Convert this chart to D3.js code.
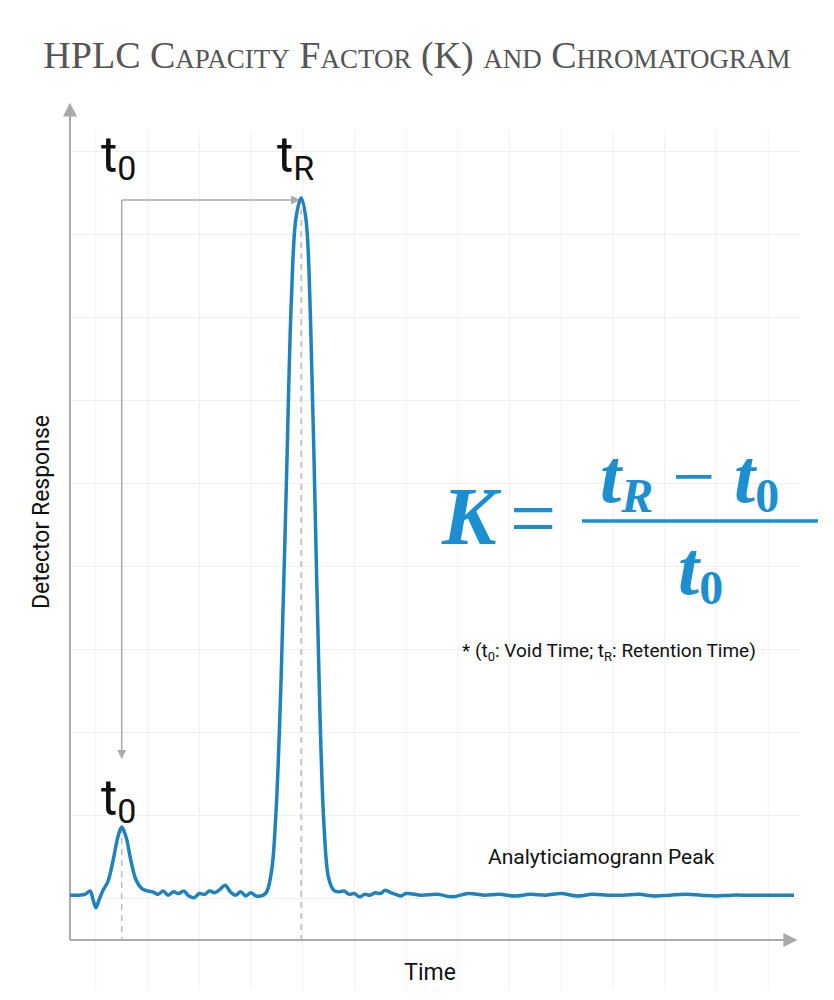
<!DOCTYPE html>
<html><head><meta charset="utf-8">
<script src="https://cdn.jsdelivr.net/npm/d3@7"></script>
<style>body{margin:0;background:#fff}</style>
</head><body>
<div id="chart"></div>
<script>
// chromatogram samples (time, detector response)
var times = [0,0.29,0.39,0.44,0.5,0.56,0.64,0.73,0.83,0.93,1.0,1.08,1.18,1.28,1.39,1.51,
  1.6,1.7,1.8,1.9,2.0,2.1,2.2,2.3,2.4,2.5,2.6,2.7,2.8,2.9,3.0,3.1,3.2,3.3,3.4,3.5,3.6,
  3.78,3.89,3.98,4.08,4.18,4.28,4.37,4.47,4.56,4.65,4.74,4.83,4.91,5.0,5.1,
  5.2,5.3,5.4,5.5,5.6,5.7,5.8,5.9,6.0,6.1,6.2,6.3,6.4,6.5,6.8,7.1,7.4,7.7,8.0,8.3,8.6,8.9,
  9.2,9.5,9.8,10.1,10.4,10.7,11.0,11.3,11.6,11.9,12.2,12.5,12.8,13.1,13.4,13.7,14.0];
var response = [5.4,5.5,5.9,5.0,3.9,4.8,6.0,7.0,9.5,12.5,13.6,12.5,9.5,7.2,6.2,5.9,
  5.8,5.5,5.9,5.4,5.8,5.6,5.9,5.3,5.1,5.6,5.5,5.9,5.7,6.1,6.6,5.8,5.4,5.8,5.3,5.7,5.3,
  5.6,8,15,31,54,77,87,89.4,87,75,52,28,14,7.5,6.0,
  5.8,5.9,5.5,5.6,5.2,5.5,5.4,5.7,5.6,6.0,5.7,5.5,5.3,5.6,5.4,5.5,5.2,5.6,5.4,5.5,5.3,5.5,
  5.4,5.6,5.3,5.5,5.4,5.4,5.5,5.3,5.4,5.5,5.4,5.3,5.4,5.4,5.4,5.4,5.4];
var t0 = 1.0, tR = 4.47;
var gridX = [0.5,1.5,2.5,3.5,4.5,5.5,6.5,7.5,8.5,9.5,10.5,11.5,12.5,13.5];
var gridY = [5,15,25,35,45,55,65,75,85,95];

var W = 834, H = 1000;
var svg = d3.select("#chart").append("svg").attr("width", W).attr("height", H);
var x = d3.scaleLinear().domain([0, 14]).range([70, 794]);
var y = d3.scaleLinear().domain([0, 100]).range([940, 110]);
var blue = "#1f82bd", fblue = "#1b8fcf", gray = "#aaa";

svg.append("text").attr("x", W/2).attr("y", 68).attr("text-anchor", "middle")
  .style("font-family", "'Liberation Serif', serif")
  .style("font-variant", "small-caps").style("font-size", "38px").style("fill", "#555")
  .text("HPLC Capacity Factor (K) and Chromatogram");

// faint grid
svg.selectAll(".gx").data(gridX).enter().append("line")
  .attr("x1", d => x(d)).attr("x2", d => x(d)).attr("y1", 130).attr("y2", 990)
  .attr("stroke", "#f0f0f0").attr("stroke-width", 1);
svg.selectAll(".gy").data(gridY).enter().append("line")
  .attr("x1", 70).attr("x2", 800).attr("y1", d => y(d)).attr("y2", d => y(d))
  .attr("stroke", "#f0f0f0").attr("stroke-width", 1);

var defs = svg.append("defs");
defs.append("marker").attr("id", "ah").attr("viewBox", "0 0 10 10").attr("refX", 9).attr("refY", 5)
  .attr("markerWidth", 7).attr("markerHeight", 7).attr("orient", "auto")
  .append("path").attr("d", "M0,0L10,5L0,10z").attr("fill", gray);
defs.append("marker").attr("id", "ah2").attr("viewBox", "0 0 10 10").attr("refX", 9).attr("refY", 5)
  .attr("markerWidth", 6).attr("markerHeight", 6).attr("orient", "auto")
  .append("path").attr("d", "M0,0L10,5L0,10z").attr("fill", gray);

// axes
svg.append("line").attr("x1", 70).attr("y1", y(0)).attr("x2", 70).attr("y2", 104)
  .attr("stroke", gray).attr("stroke-width", 2).attr("marker-end", "url(#ah)");
svg.append("line").attr("x1", 70).attr("y1", y(0)).attr("x2", 796).attr("y2", y(0))
  .attr("stroke", gray).attr("stroke-width", 2).attr("marker-end", "url(#ah)");

// dashed drops
[[t0, 13.6], [tR, 89.4]].forEach(function(p) {
  svg.append("line").attr("x1", x(p[0])).attr("x2", x(p[0])).attr("y1", y(p[1])).attr("y2", y(0))
    .attr("stroke", "#bbb").attr("stroke-width", 1.5).attr("stroke-dasharray", "6,5");
});

// bracket arrows
var yTop = 200;
svg.append("line").attr("x1", x(t0)).attr("y1", yTop).attr("x2", x(tR) - 2).attr("y2", yTop)
  .attr("stroke", gray).attr("stroke-width", 1.5).attr("marker-end", "url(#ah2)");
svg.append("line").attr("x1", x(t0)).attr("y1", yTop).attr("x2", x(t0)).attr("y2", 758)
  .attr("stroke", gray).attr("stroke-width", 1.5).attr("marker-end", "url(#ah2)");

// chromatogram
var pts = times.map((t, i) => [t, response[i]]);
svg.append("path").datum(pts)
  .attr("d", d3.line().x(d => x(d[0])).y(d => y(d[1])).curve(d3.curveCatmullRom.alpha(0.5)))
  .attr("fill", "none").attr("stroke", blue).attr("stroke-width", 3.5);

function tLabel(xp, yp, sub) {
  var t = svg.append("text").attr("x", xp).attr("y", yp)
    .style("font-family", "Roboto, sans-serif").style("font-size", "50px").style("fill", "#111");
  t.append("tspan").text("t");
  t.append("tspan").attr("dy", 8).style("font-size", "34px").text(sub);
}
tLabel(101, 172, "0");
tLabel(277, 172, "R");
tLabel(101, 815, "0");

// formula
var ff = "'Liberation Serif', serif";
svg.append("text").attr("x", 442).attr("y", 544).style("font-family", ff).style("font-style", "italic")
  .style("font-weight", "bold").style("font-size", "82px").style("fill", fblue).text("K");
svg.append("text").attr("x", 510).attr("y", 546).style("font-family", ff)
  .style("font-size", "82px").style("fill", fblue).text("=");
svg.append("line").attr("x1", 582).attr("x2", 818).attr("y1", 521).attr("y2", 521)
  .attr("stroke", fblue).attr("stroke-width", 3.5);
var num = svg.append("text").attr("x", 600).attr("y", 502).style("font-family", ff)
  .style("font-weight", "bold").style("font-size", "76px").style("fill", fblue);
num.append("tspan").style("font-style", "italic").text("t");
num.append("tspan").attr("dy", 10).style("font-size", "48px").style("font-style", "italic").text("R");
num.append("tspan").attr("dy", -10).style("font-weight", "normal").text(" − ");
num.append("tspan").style("font-style", "italic").text("t");
num.append("tspan").attr("dy", 10).style("font-size", "48px").text("0");
var den = svg.append("text").attr("x", 678).attr("y", 594).style("font-family", ff)
  .style("font-weight", "bold").style("font-size", "76px").style("fill", fblue);
den.append("tspan").style("font-style", "italic").text("t");
den.append("tspan").attr("dy", 10).style("font-size", "48px").text("0");

var note = svg.append("text").attr("x", 462).attr("y", 657)
  .style("font-family", "Roboto, sans-serif").style("font-size", "19px").style("fill", "#111");
note.append("tspan").text("* (t");
note.append("tspan").attr("dy", 4).style("font-size", "13px").text("0");
note.append("tspan").attr("dy", -4).text(": Void Time; t");
note.append("tspan").attr("dy", 4).style("font-size", "13px").text("R");
note.append("tspan").attr("dy", -4).text(": Retention Time)");

svg.append("text").attr("x", 488).attr("y", 864).style("font-family", "Roboto, sans-serif")
  .style("font-size", "21px").style("fill", "#111").text("Analyticiamogrann Peak");
svg.append("text").attr("x", 430).attr("y", 980).attr("text-anchor", "middle")
  .style("font-family", "Roboto, sans-serif").style("font-size", "23px").style("fill", "#111").text("Time");
svg.append("text").attr("transform", "translate(49,512) rotate(-90)").attr("text-anchor", "middle")
  .style("font-family", "Roboto, sans-serif").style("font-size", "23px").style("fill", "#111")
  .text("Detector Response");
</script>
</body></html>
